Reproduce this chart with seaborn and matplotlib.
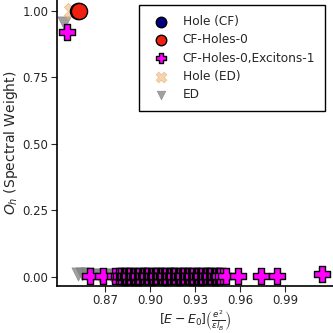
import numpy as np
import pandas as pd
import seaborn as sns
import matplotlib
matplotlib.use("Agg")
import matplotlib.pyplot as plt

# Data
hole_cf_x = [0.852]
hole_cf_y = [1.0]
cfh0_x = [0.853]
cfh0_y = [1.0]
exc_x = [0.845, 0.860, 0.8687, 0.8767, 0.8795, 0.8805, 0.881, 0.8825, 0.8835, 0.884,
         0.8855, 0.8862, 0.887, 0.8885, 0.8893, 0.890, 0.8915, 0.8921, 0.893, 0.8945,
         0.8952, 0.896, 0.8975, 0.8983, 0.899, 0.9005, 0.9012, 0.902, 0.9035, 0.9041,
         0.905, 0.9065, 0.9072, 0.908, 0.9095, 0.9103, 0.911, 0.9125, 0.9131, 0.914,
         0.9155, 0.9162, 0.917, 0.9185, 0.9193, 0.920, 0.9215, 0.9222, 0.923, 0.9245,
         0.9251, 0.926, 0.9275, 0.9283, 0.929, 0.9305, 0.9312, 0.932, 0.9335, 0.9342,
         0.935, 0.9365, 0.9371, 0.938, 0.9395, 0.9402, 0.941, 0.9425, 0.9433, 0.944,
         0.9455, 0.9461, 0.947, 0.9485, 0.951, 0.959, 0.974, 0.9847, 1.0147]
exc_y = [0.92, 0.003, 0.002, 0.004, 0.001, 0.003, 0.003, 0.002, 0.000, 0.001,
         0.002, 0.004, 0.001, 0.002, 0.000, 0.001, 0.003, 0.000, 0.001, 0.002,
         0.004, 0.001, 0.001, 0.003, 0.002, 0.001, 0.000, 0.001, 0.002, 0.004,
         0.001, 0.001, 0.003, 0.002, 0.001, 0.000, 0.001, 0.001, 0.003, 0.002,
         0.001, 0.004, 0.001, 0.002, 0.000, 0.001, 0.001, 0.003, 0.002, 0.001,
         0.004, 0.001, 0.002, 0.000, 0.001, 0.001, 0.003, 0.002, 0.001, 0.000,
         0.001, 0.002, 0.004, 0.001, 0.001, 0.003, 0.002, 0.001, 0.000, 0.001,
         0.002, 0.004, 0.001, 0.002, 0.004, 0.003, 0.002, 0.003, 0.010]
hole_ed_x = [0.848]
hole_ed_y = [1.0]
ed_x = [0.843, 0.852, 0.855, 0.858, 0.862, 0.866, 0.870, 0.874, 0.880, 0.890, 0.900, 0.910, 0.920, 0.930]
ed_y = [0.955, 0.012, 0.010, 0.010, 0.008, 0.008, 0.006, 0.006, 0.005, 0.004, 0.004, 0.003, 0.003, 0.002]

sns.set_style("ticks")
fig, ax = plt.subplots(figsize=(3.33, 3.33), dpi=100)
fig.subplots_adjust(left=0.171, bottom=0.141, right=1.0, top=1.0)

sns.scatterplot(x=ed_x, y=ed_y, ax=ax, marker="v", s=90, color="gray",
                alpha=0.75, edgecolor="gray", linewidth=0.5, label="ED", zorder=2)
sns.scatterplot(x=hole_ed_x, y=hole_ed_y, ax=ax, marker="X", s=140, color="#f0b878",
                alpha=0.6, edgecolor="#e0a060", linewidth=0.5, label="Hole (ED)", zorder=3)
sns.scatterplot(x=hole_cf_x, y=hole_cf_y, ax=ax, marker="o", s=135, color="navy",
                edgecolor="black", linewidth=1, label="Hole (CF)", zorder=4)
sns.scatterplot(x=cfh0_x, y=cfh0_y, ax=ax, marker="o", s=135, color="#f02010",
                edgecolor="black", linewidth=1, label="CF-Holes-0", zorder=5)
sns.scatterplot(x=exc_x, y=exc_y, ax=ax, marker="P", s=130, color="magenta",
                edgecolor="black", linewidth=1, label="CF-Holes-0,Excitons-1", zorder=6)

ax.set_xlim(0.838, 1.022)
ax.set_ylim(-0.035, 1.04)
ax.set_xticks([0.87, 0.90, 0.93, 0.96, 0.99])
ax.set_yticks([0.0, 0.25, 0.5, 0.75, 1.0])
ax.tick_params(labelsize=8.5, length=4, pad=2)
ax.set_xlabel(r"$[E-E_0]\left(\frac{e^2}{\epsilon l_B}\right)$", fontsize=9, labelpad=1)
ax.set_ylabel(r"$O_h$ (Spectral Weight)", fontsize=10, labelpad=2)
for sp in ["left", "bottom"]:
    ax.spines[sp].set_linewidth(1.2)
    ax.spines[sp].set_color("black")
sns.despine(ax=ax)

handles, labels = ax.get_legend_handles_labels()
order = ["Hole (CF)", "CF-Holes-0", "CF-Holes-0,Excitons-1", "Hole (ED)", "ED"]
hmap = dict(zip(labels, handles))
leg = ax.legend([hmap[o] for o in order], order, loc="upper right", fontsize=8.7,
                fancybox=False, frameon=True, edgecolor="black", framealpha=1,
                bbox_to_anchor=(0.971, 0.9825), borderaxespad=0, borderpad=0.8,
                labelspacing=0.45, markerscale=0.65, handlelength=2.0, handletextpad=0.8)
leg.get_frame().set_linewidth(1.0)

fig.savefig("out.png", dpi=100)
